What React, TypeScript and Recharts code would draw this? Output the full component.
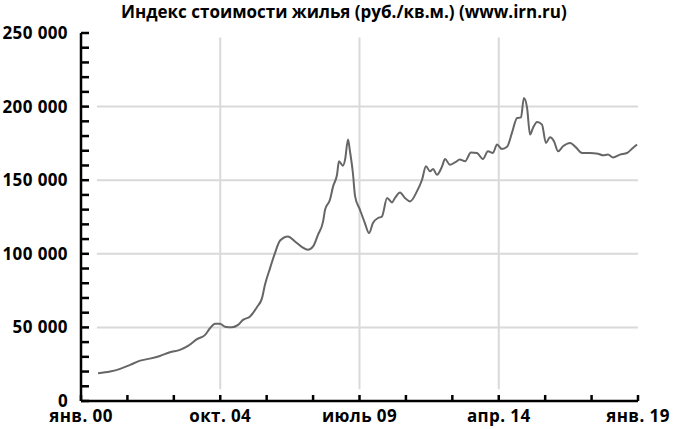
import React from 'react';
import { LineChart, Line, XAxis, YAxis, ReferenceLine } from 'recharts';

const titleText = 'Индекс стоимости жилья (руб./кв.м.) (www.irn.ru)';

// months since January 2000
const months = [
  7.0, 11.9, 16.0, 20.1, 24.2, 28.2, 32.3, 36.4, 40.5, 43.8, 47.5, 50.8, 52.8, 54.9, 56.9, 58.9,
  61.8, 64.3, 66.3, 69.2, 72.0, 74.1, 75.3, 77.4, 79.4, 81.5, 84.7, 87.6, 90.5, 92.9, 95.0, 97.0,
  99.1, 99.9, 101.9, 103.2, 104.8, 105.6, 107.2, 108.1, 109.3, 110.1, 111.3, 112.2, 114.2, 116.2,
  117.9, 119.5, 121.6, 123.2, 125.3, 127.3, 128.5, 130.6, 132.6, 134.7, 137.5, 139.6, 141.2, 142.9,
  144.1, 145.7, 147.8, 149.0, 151.0, 153.1, 155.1, 157.2, 159.6, 162.1, 164.5, 166.6, 168.6, 170.3,
  172.3, 174.4, 176.4, 178.5, 180.1, 181.3, 182.6, 183.8, 185.0, 186.7, 188.7, 190.3, 192.0, 193.6,
  195.3, 197.3, 200.2, 202.6, 205.1, 208.3, 211.6, 213.7, 215.7, 217.8, 220.6, 223.5, 225.9, 227.6,
];

// rub per sq. m
const prices = [
  18800, 20000, 21800, 24500, 27400, 28800, 30600, 33100, 34700, 37400, 42000, 44900, 49400, 52400, 52400, 50500,
  50100, 51700, 55100, 57400, 63700, 69900, 78900, 90300, 100500, 109000, 111800, 108400, 104500, 102700, 105000, 112900,
  122000, 129900, 136700, 145800, 153700, 162800, 159900, 164000, 177600, 169600, 154900, 139000, 129900, 120900,
  114100, 120900, 124300, 125400, 137900, 134900, 137900, 141700, 137900, 135600, 142400, 150300, 159400, 156000,
  157600, 153700, 159400, 164400, 160500, 162100, 164000, 162800, 168900, 168500, 164400, 169600, 168500, 174200,
  171200, 172700, 182100, 192300, 192700, 205900, 199100, 181000, 185500, 189600, 187800, 175300, 179100, 176400,
  169600, 173000, 175300, 172300, 168500, 168500, 168000, 166900, 167400, 165500, 167400, 168500, 171900, 174200,
];

const xTickMonths = [0, 19, 38, 57, 76, 95, 114, 133, 152, 171, 190, 209, 228];
const xLabelMonths = [0, 57, 114, 171, 228];
const xLabels = ['янв. 00', 'окт. 04', 'июль 09', 'апр. 14', 'янв. 19'];

const yTicks = [
  0, 10000, 20000, 30000, 40000, 50000, 60000, 70000, 80000, 90000, 100000, 110000, 120000,
  130000, 140000, 150000, 160000, 170000, 180000, 190000, 200000, 210000, 220000, 230000, 240000, 250000,
];
const yGridValues = [50000, 100000, 150000, 200000];
const yLabelStep = 50000;

const data = months.map((m, i) => ({ m, v: prices[i] }));

const FONT = '"Open Sans", sans-serif';
const GRID = '#d9d9d9';

const fmt = (v: number) => String(v).replace(/\B(?=(\d{3})+(?!\d))/g, ' ');

// x is the inner end of the tick (axis x + 8)
const YTick = (props: any) => {
  const { x, y, payload } = props;
  const v = payload.value;
  if (v % yLabelStep !== 0) return <g />;
  return (
    <text x={x - 21} y={y} dy={6} textAnchor="end" fontFamily={FONT} fontWeight={700} fontSize={17} letterSpacing={0.4} fill="#000">
      {fmt(v)}
    </text>
  );
};

// y is the inner end of the tick (axis y - 6)
const XTick = (props: any) => {
  const { x, y, payload } = props;
  const idx = xLabelMonths.indexOf(payload.value);
  if (idx < 0) return <g />;
  return (
    <text x={x} y={y} dy={27} textAnchor="middle" fontFamily={FONT} fontWeight={700} fontSize={17} letterSpacing={0.4} fill="#000">
      {xLabels[idx]}
    </text>
  );
};

export default function App() {
  return (
    <div style={{ position: 'absolute', left: 0, top: 0, width: 675, height: 429, background: '#fff' }}>
      <div
        style={{
          position: 'absolute',
          left: 121,
          top: 2,
          whiteSpace: 'nowrap',
          fontFamily: FONT,
          fontWeight: 700,
          fontSize: 17,
          lineHeight: '20px',
          color: '#000',
        }}
      >
        {titleText}
      </div>
      <LineChart width={675} height={429} data={data} margin={{ top: 33, right: 37, bottom: 0, left: 0 }}>
        {yGridValues.map((g) => (
          <ReferenceLine
            key={'h' + g}
            segment={[{ x: 6.5, y: g }, { x: 228, y: g }]}
            stroke={GRID}
            strokeWidth={2}
          />
        ))}
        {xLabelMonths.slice(1, 4).map((m) => (
          <ReferenceLine
            key={'v' + m}
            segment={[{ x: m, y: 8000 }, { x: m, y: 247000 }]}
            stroke={GRID}
            strokeWidth={2}
          />
        ))}
        <XAxis
          type="number"
          dataKey="m"
          domain={[0, 228]}
          ticks={xTickMonths}
          interval={0}
          height={28}
          tickSize={-6}
          tickMargin={0}
          tickLine={{ stroke: '#000', strokeWidth: 2.5 }}
          axisLine={{ stroke: '#000', strokeWidth: 2.5 }}
          tick={<XTick />}
        />
        <YAxis
          type="number"
          domain={[0, 250000]}
          ticks={yTicks}
          interval={0}
          width={81}
          tickSize={-8}
          tickMargin={0}
          tickLine={{ stroke: '#000', strokeWidth: 2.5 }}
          axisLine={{ stroke: '#000', strokeWidth: 2.5 }}
          tick={<YTick />}
        />
        <Line
          type="monotone"
          dataKey="v"
          stroke="#666666"
          strokeWidth={2}
          dot={false}
          isAnimationActive={false}
        />
      </LineChart>
    </div>
  );
}
